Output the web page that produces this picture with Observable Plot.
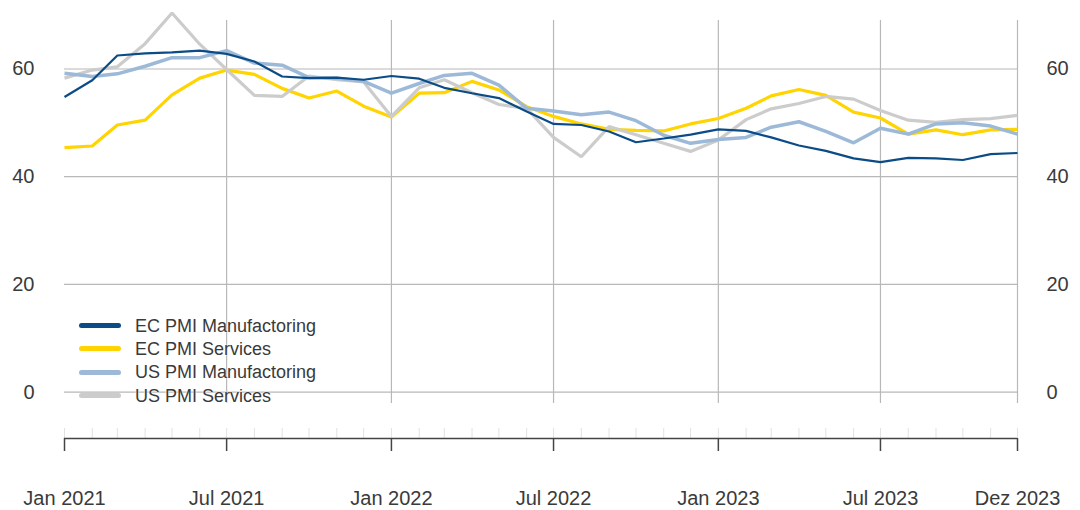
<!DOCTYPE html>
<html>
<head>
<meta charset="utf-8">
<script src="https://cdn.jsdelivr.net/npm/d3@7"></script>
<script src="https://cdn.jsdelivr.net/npm/@observablehq/plot@0.6"></script>
<style>
  html, body { margin: 0; padding: 0; background: #fff; }
  body { font-family: "Liberation Sans", Arial, sans-serif; }
  #wrap { position: relative; width: 1080px; height: 510px; }
  #legend { position: absolute; left: 79px; top: 314px; }
  .row { display: flex; align-items: center; height: 23.3px; }
  .sw { width: 42px; height: 5px; border-radius: 3px; margin-right: 14px; }
  .lab { font-size: 18px; color: #3a3a3a; line-height: 18px;
         text-shadow: 0 0 1px #fff, 0 0 1px #fff, 0 0 2px #fff; white-space: nowrap; }
</style>
</head>
<body>
<div id="wrap"><div id="chart"></div><div id="legend"></div></div>
<script>
const months = [
  "2021-01","2021-02","2021-03","2021-04","2021-05","2021-06","2021-07","2021-08","2021-09","2021-10","2021-11","2021-12",
  "2022-01","2022-02","2022-03","2022-04","2022-05","2022-06","2022-07","2022-08","2022-09","2022-10","2022-11","2022-12",
  "2023-01","2023-02","2023-03","2023-04","2023-05","2023-06","2023-07","2023-08","2023-09","2023-10","2023-11","2023-12"
];
const ecManufacturing = [
  54.8, 57.9, 62.5, 62.9, 63.1, 63.4, 62.8, 61.4, 58.6, 58.3, 58.4, 58.0,
  58.7, 58.2, 56.5, 55.5, 54.6, 52.1, 49.8, 49.6, 48.4, 46.4, 47.1, 47.8,
  48.8, 48.5, 47.3, 45.8, 44.8, 43.4, 42.7, 43.5, 43.4, 43.1, 44.2, 44.4
];
const ecServices = [
  45.4, 45.7, 49.6, 50.5, 55.2, 58.3, 59.8, 59.0, 56.4, 54.6, 55.9, 53.1,
  51.1, 55.5, 55.6, 57.7, 56.1, 53.0, 51.2, 49.8, 48.8, 48.6, 48.5, 49.8,
  50.8, 52.7, 55.0, 56.2, 55.1, 52.0, 50.9, 47.9, 48.7, 47.8, 48.7, 48.8
];
const usManufacturing = [
  59.2, 58.6, 59.1, 60.5, 62.1, 62.1, 63.4, 61.1, 60.7, 58.4, 58.3, 57.7,
  55.5, 57.3, 58.8, 59.2, 57.0, 52.7, 52.2, 51.5, 52.0, 50.4, 47.7, 46.2,
  46.9, 47.3, 49.2, 50.2, 48.4, 46.3, 49.0, 47.9, 49.8, 50.0, 49.4, 47.9
];
const usServices = [
  58.3, 59.8, 60.4, 64.7, 70.4, 64.6, 59.9, 55.1, 54.9, 58.7, 58.0, 57.6,
  51.2, 56.5, 58.0, 55.6, 53.4, 52.7, 47.3, 43.7, 49.3, 47.8, 46.2, 44.7,
  46.8, 50.6, 52.6, 53.6, 54.9, 54.4, 52.3, 50.5, 50.1, 50.6, 50.8, 51.4
];
const seriesNames = ["EC PMI Manufactoring", "EC PMI Services", "US PMI Manufactoring", "US PMI Services"];
const seriesColors = ["#0b4c86", "#ffd400", "#9db9d8", "#cccccc"];
const yTicks = [0, 20, 40, 60];
const majorTickMonths = ["2021-01","2021-07","2022-01","2022-07","2023-01","2023-07","2023-12"];
const majorTickLabels = ["Jan 2021","Jul 2021","Jan 2022","Jul 2022","Jan 2023","Jul 2023","Dez 2023"];
const yDomain = [-2.1, 69];

const parse = d3.utcParse("%Y-%m");
const dates = months.map(parse);
const majorDates = majorTickMonths.map(parse);
const labelByTime = new Map(majorDates.map((d, i) => [+d, majorTickLabels[i]]));

const seriesValues = [ecManufacturing, ecServices, usManufacturing, usServices];
const widths = [2.2, 3.2, 3.5, 3.2];
const drawOrder = [1, 3, 2, 0];

const lineMarks = drawOrder.map(k =>
  Plot.line(seriesValues[k], {
    x: (d, i) => dates[i], y: d => d,
    stroke: seriesColors[k], strokeWidth: widths[k],
    strokeLinejoin: "miter", strokeLinecap: "butt"
  })
);

const textColor = "#3a3a3a";
const chart = Plot.plot({
  width: 1080, height: 510,
  marginLeft: 64, marginRight: 63, marginTop: 20, marginBottom: 107,
  style: { fontFamily: '"Liberation Sans", Arial, sans-serif', fontSize: "20px", background: "#fff", color: textColor },
  x: { type: "utc", domain: [dates[0], dates[dates.length - 1]] },
  y: { domain: yDomain },
  marks: [
    Plot.gridY(yTicks, { stroke: "#b8b8b8", strokeOpacity: 1, strokeWidth: 1.2 }),
    Plot.gridX(majorDates.slice(1), { stroke: "#b8b8b8", strokeOpacity: 1, strokeWidth: 1.2 }),
    Plot.axisY(yTicks, { anchor: "left", tickSize: 0, tickPadding: 30, fontSize: 20, fill: textColor, label: null }),
    Plot.axisY(yTicks, { anchor: "right", tickSize: 0, tickPadding: 29, fontSize: 20, fill: textColor, label: null }),
    Plot.axisX(dates, { anchor: "bottom", tickSize: 10, dy: 25, tickFormat: () => "", stroke: "#e2e2e2", label: null }),
    Plot.ruleY([yDomain[0]], { dy: 35, stroke: "#444", strokeWidth: 1.5 }),
    Plot.axisX(majorDates, { anchor: "bottom", tickSize: 13, dy: 35, tickPadding: 39,
      tickFormat: d => labelByTime.get(+d), stroke: "#444", strokeWidth: 1.5,
      fill: textColor, fontSize: 20, label: null }),
    ...lineMarks
  ]
});
document.getElementById("chart").appendChild(chart);

const legend = document.getElementById("legend");
seriesNames.forEach((name, k) => {
  const row = document.createElement("div");
  row.className = "row";
  const sw = document.createElement("div");
  sw.className = "sw";
  sw.style.background = seriesColors[k];
  const lab = document.createElement("div");
  lab.className = "lab";
  lab.textContent = name;
  row.appendChild(sw); row.appendChild(lab);
  legend.appendChild(row);
});
</script>
</body>
</html>
